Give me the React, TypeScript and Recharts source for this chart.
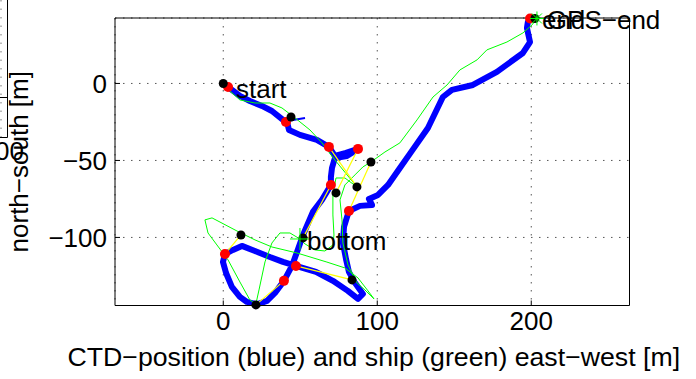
import React from 'react';
import { ComposedChart, Line, Scatter, XAxis, YAxis, CartesianGrid } from 'recharts';

const FONT = '"Liberation Sans", Arial, Helvetica, sans-serif';

// CTD track (blue), metres east / north of the start
const ctdEast = [3.1, 10.8, 17.3, 25.1, 31.6, 38.8, 41.4, 42.7, 49.8, 60.8, 68.6, 72.5, 79.7, 87.5, 80.3, 72.5, 70.6, 69.9, 69.9, 64.1, 58.2, 51.8, 47.9, 44.6, 39.4, 33.6, 28.4, 21.9, 15.4, 10.8, 5.6, 1.8, -0.2, 1.1, 6.3, 12.1, 20.6, 30.3, 38.8, 47.2, 60.2, 71.2, 80.9, 87.5, 90.7, 85.5, 81.6, 79.7, 77.7, 78.4, 81.6, 88.8, 96.6, 94.6, 100.5, 107.0, 114.7, 122.5, 132.9, 142.6, 148.5, 162.1, 177.7, 194.6, 199.2, 197.2, 197.8, 199.2];
const ctdNorth = [-2.3, -8.1, -11.4, -14.6, -17.9, -23.7, -25.0, -30.2, -33.4, -36.7, -41.2, -47.1, -45.1, -42.5, -47.1, -48.4, -54.9, -60.7, -66.0, -75.6, -83.4, -98.4, -109.4, -118.5, -128.2, -136.0, -141.2, -143.5, -141.9, -138.6, -132.1, -123.1, -115.9, -110.8, -108.1, -105.5, -108.8, -112.7, -115.9, -118.5, -122.4, -128.2, -134.7, -139.9, -136.7, -129.5, -122.4, -114.0, -103.6, -93.2, -82.8, -79.5, -78.9, -75.0, -72.4, -65.9, -54.9, -43.8, -28.9, -8.8, -4.2, -1.0, 7.5, 19.8, 26.9, 36.0, 39.9, 42.2];

// short thin blue tail at the second fix
const tailEast = [41.4, 53.1];
const tailNorth = [-24.4, -22.4];

// ship GPS track (green)
const shipEast = [-0.2, 10.8, 20.6, 30.3, 38.1, 46.6, 56.3, 64.1, 72.5, 81.0, 86.8, 79.0, 73.2, 71.2, 71.2, 71.9, 71.2, 66.0, 59.5, 53.1, 49.8, 43.3, 36.8, 31.6, 27.1, 23.2, 21.2, 17.3, 10.8, 3.1, -4.1, -9.9, -11.9, -7.3, 8.9, 20.6, 31.6, 47.9, 67.3, 79.0, 87.5, 94.0, 97.9, 92.0, 86.8, 81.0, 77.7, 77.1, 75.8, 79.0, 85.5, 90.7, 95.9, 105.0, 114.7, 125.8, 136.2, 145.3, 153.7, 164.8, 171.2, 184.2, 194.6, 200.5, 203.7];
const shipNorth = [-1.0, -10.7, -12.7, -12.7, -15.9, -22.4, -30.2, -38.6, -49.7, -60.1, -67.2, -61.4, -61.4, -72.4, -85.4, -98.4, -104.9, -108.8, -108.1, -104.2, -101.0, -97.1, -97.1, -103.6, -115.9, -134.1, -143.2, -140.6, -128.9, -114.6, -104.9, -97.1, -88.6, -87.3, -95.8, -101.6, -106.2, -110.1, -116.0, -119.8, -126.3, -134.7, -139.9, -134.1, -129.5, -117.9, -103.6, -88.6, -75.6, -65.9, -59.4, -54.2, -51.0, -44.5, -38.6, -23.7, -8.8, -1.0, 8.8, 15.3, 21.8, 26.9, 32.8, 38.0, 42.2];

// paired fixes: CTD position (red) and ship position (black)
const ctdFixEast = [3.1, 40.7, 68.6, 87.5, 69.9, 81.6, 1.1, 39.4, 47.2, 199.2];
const ctdFixNorth = [-2.3, -25.0, -41.2, -42.5, -66.0, -82.8, -110.8, -128.2, -118.5, 42.2];
const shipFixEast = [0, 44.0, 86.8, 73.2, 51.8, 95.9, 11.5, 21.2, 83.6, 202.4];
const shipFixNorth = [0, -21.8, -67.2, -71.1, -100.3, -51.0, -98.4, -143.8, -127.6, 42.2];

// ship at bottom time (+) and GPS end (*)
const plusEast = [49.8];
const plusNorth = [-101.0];
const starEast = [203.7];
const starNorth = [42.2];

// text annotations
const labelText = ['start', 'bottom', 'end', 'GPS\u2212end'];
const labelEast = [3.7, 49.8, 202.4, 205.6];
const labelNorth = [-3.9, -102.5, 41.2, 41.2];

const xTicks = [0, 100, 200];
const yTicks = [-100, -50, 0];
const xDomain = [-70.3, 263.8];
const yDomain = [-144.2, 42.5];

const pts = (xs: number[], ys: number[]) => xs.map((x, i) => ({ x, y: ys[i] }));

const ctdTrack = pts(ctdEast, ctdNorth);
const tail = pts(tailEast, tailNorth);
const shipTrack = pts(shipEast, shipNorth);
const ctdFixes = pts(ctdFixEast, ctdFixNorth);
const shipFixes = pts(shipFixEast, shipFixNorth);
const pairs = ctdFixes.map((c, i) => [shipFixes[i], c]);
const plusPts = pts(plusEast, plusNorth);
const starPts = pts(starEast, starNorth);
const labels = labelText.map((text, i) => ({ x: labelEast[i], y: labelNorth[i], text }));

const fmt = (v: number) => (v < 0 ? '\u2212' + Math.abs(v) : String(v));

const tickStyle = { fill: '#000', fontSize: 26, fontFamily: FONT };

const YLabel = (props: any) => {
  const vb = props.viewBox || {};
  const cx = (vb.x ?? 114) + (vb.width ?? 1) - 96;
  const cy = (vb.y ?? 18) + (vb.height ?? 287.5) / 2;
  return (
    <text x={cx} y={cy} transform={`rotate(-90 ${cx} ${cy})`} textAnchor="middle" dominantBaseline="central"
      fontSize={26} fontFamily={FONT} fill="#000">
      north{'\u2212'}south [m]
    </text>
  );
};

const XLabel = (props: any) => {
  const vb = props.viewBox || {};
  const cx = (vb.x ?? 115) + (vb.width ?? 515) / 2 + 1.5;
  const cy = (vb.y ?? 305.5) + 51.5;
  return (
    <text x={cx} y={cy} textAnchor="middle" dominantBaseline="central" fontSize={26.7} fontFamily={FONT} fill="#000">
      CTD{'\u2212'}position (blue) and ship (green) east{'\u2212'}west [m]
    </text>
  );
};

export default function App() {
  return (
    <div style={{ position: 'absolute', left: 0, top: 0, width: 696, height: 379, background: '#fff' }}>
      {/* clipped neighbouring axes at the left edge */}
      <svg width={696} height={379} style={{ position: 'absolute', left: 0, top: 0 }}>
        <line x1={1} y1={0} x2={1} y2={137} stroke="#777" strokeDasharray="1.5 7" />
        <line x1={7.5} y1={0} x2={7.5} y2={137.5} stroke="#000" />
        <line x1={0} y1={97.5} x2={7.5} y2={97.5} stroke="#000" />
        <line x1={0} y1={137.5} x2={7.5} y2={137.5} stroke="#000" />
        <text x={24} y={160} textAnchor="end" fontSize={26} fontFamily={FONT} fill="#000">100</text>
      </svg>
      <div style={{ position: 'absolute', left: 0, top: 0 }}>
        <ComposedChart width={696} height={379} margin={{ top: 17, right: 65.5, bottom: 72.5, left: 114 }}>
          <CartesianGrid stroke="#555" strokeDasharray="1.5 6.5" />
          <XAxis dataKey="x" type="number" domain={xDomain} ticks={xTicks} height={1}
            tickFormatter={fmt} tick={tickStyle} tickSize={-5} tickMargin={11.5}
            axisLine={{ stroke: '#000' }} tickLine={{ stroke: '#000' }}
            label={{ content: XLabel }} />
          <XAxis xAxisId="top" orientation="top" dataKey="x" type="number" domain={xDomain} allowDataOverflow ticks={xTicks} height={1}
            tick={false} tickSize={-5} axisLine={{ stroke: '#000' }} tickLine={{ stroke: '#000' }} />
          <YAxis dataKey="y" type="number" domain={yDomain} ticks={yTicks} width={1}
            tickFormatter={fmt} tick={tickStyle} tickSize={-5} tickMargin={13}
            axisLine={{ stroke: '#000' }} tickLine={{ stroke: '#000' }}
            label={{ content: YLabel }} />
          <YAxis yAxisId="right" orientation="right" dataKey="y" type="number" domain={yDomain} allowDataOverflow ticks={yTicks} width={1}
            tick={false} tickSize={-5} axisLine={{ stroke: '#000' }} tickLine={{ stroke: '#000' }} />

          <Line data={ctdTrack} dataKey="y" type="linear" stroke="#0000ff" strokeWidth={6} strokeLinejoin="round" strokeLinecap="round"
            dot={false} activeDot={false} isAnimationActive={false} />
          <Line data={tail} dataKey="y" type="linear" stroke="#0000ff" strokeWidth={2} dot={false} activeDot={false} isAnimationActive={false} />
          <Line data={shipTrack} dataKey="y" type="linear" stroke="#00ff00" strokeWidth={1} dot={false} activeDot={false} isAnimationActive={false} />
          <Scatter data={ctdFixes} dataKey="y" isAnimationActive={false}
            shape={(p: any) => <circle cx={p.cx} cy={p.cy} r={5} fill="#ff0000" />} />
          <Scatter data={shipFixes} dataKey="y" isAnimationActive={false}
            shape={(p: any) => <circle cx={p.cx} cy={p.cy} r={4.5} fill="#000" />} />
          {pairs.map((pair, i) => (
            <Line key={i} data={pair} dataKey="y" type="linear" stroke="#ffff00" strokeWidth={1.2}
              dot={false} activeDot={false} isAnimationActive={false} />
          ))}
          <Scatter data={plusPts} dataKey="y" isAnimationActive={false}
            shape={(p: any) => (
              <path d={`M${p.cx - 10},${p.cy}H${p.cx + 10}M${p.cx},${p.cy - 11}V${p.cy + 11}`} stroke="#00ff00" strokeWidth={1} fill="none" />
            )} />
          <Scatter data={starPts} dataKey="y" isAnimationActive={false}
            shape={(p: any) => (
              <path d={`M${p.cx - 7},${p.cy}H${p.cx + 7}M${p.cx},${p.cy - 7}V${p.cy + 7}M${p.cx - 5},${p.cy - 5}L${p.cx + 5},${p.cy + 5}M${p.cx - 5},${p.cy + 5}L${p.cx + 5},${p.cy - 5}`}
                stroke="#00ff00" strokeWidth={1} fill="none" />
            )} />
          <Scatter data={labels} dataKey="y" isAnimationActive={false}
            shape={(p: any) => (
              <text x={p.cx} y={p.cy} dx={7} dominantBaseline="central" fontSize={26} fontFamily={FONT} fill="#000">
                {p.payload.text}
              </text>
            )} />
        </ComposedChart>
      </div>
    </div>
  );
}
